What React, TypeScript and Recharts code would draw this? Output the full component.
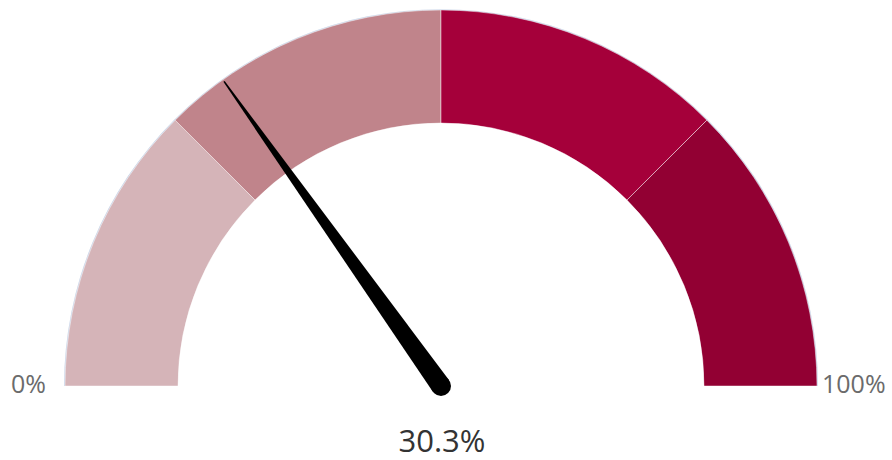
import { PieChart, Pie, Cell } from "recharts";

// gauge bands (percent of the dial each covers) and their colours
const bandSizes = [25, 25, 25, 25];
const bandColors = ["#d5b4b8", "#c0848b", "#a5003a", "#920033"];
const gaugeValue = 30.3;
const gaugeMin = 0;
const gaugeMax = 100;
const tickLabels = ["0%", "100%"];

const CX = 441;
const CY = 386;
const INNER = 263;
const OUTER = 376;

const bandData = bandSizes.map((v, i) => ({ name: `band${i}`, value: v }));
const rimData = [{ name: "rim", value: gaugeMax - gaugeMin }];

function Needle() {
  const t = (gaugeValue - gaugeMin) / (gaugeMax - gaugeMin);
  const ang = Math.PI * (1 - t);
  const ux = Math.cos(ang);
  const uy = -Math.sin(ang);
  const px = -uy;
  const py = ux;
  const len = OUTER - 2;
  const baseW = 10;
  const tipW = 0.8;
  const pts = [
    [CX + px * baseW, CY + py * baseW],
    [CX + ux * len + px * tipW, CY + uy * len + py * tipW],
    [CX + ux * len - px * tipW, CY + uy * len - py * tipW],
    [CX - px * baseW, CY - py * baseW],
  ]
    .map((p) => p.join(","))
    .join(" ");
  return (
    <svg width={892} height={460} style={{ position: "absolute", left: 0, top: 0, pointerEvents: "none" }}>
      <polygon points={pts} fill="#000" />
      <circle cx={CX} cy={CY} r={baseW} fill="#000" />
      <text x={46} y={393} textAnchor="end" fontSize={25} fill="#6b6b6b" fontFamily="'Open Sans', sans-serif">
        {tickLabels[0]}
      </text>
      <text x={822} y={393} textAnchor="start" fontSize={25} fill="#6b6b6b" fontFamily="'Open Sans', sans-serif">
        {tickLabels[1]}
      </text>
      <text x={442} y={452} textAnchor="middle" fontSize={31} fill="#333" fontFamily="'Open Sans', sans-serif">
        {`${gaugeValue}%`}
      </text>
    </svg>
  );
}

export default function App() {
  return (
    <div style={{ position: "absolute", left: 0, top: 0, width: 892, height: 460, background: "#fff" }}>
      <PieChart width={892} height={460} margin={{ top: 0, right: 0, bottom: 0, left: 0 }}>
        <Pie
          data={rimData}
          dataKey="value"
          cx={CX}
          cy={CY}
          startAngle={180}
          endAngle={0}
          innerRadius={OUTER - 1}
          outerRadius={OUTER + 1}
          fill="#c9d5e8"
          stroke="none"
          isAnimationActive={false}
        />
        <Pie
          data={bandData}
          dataKey="value"
          cx={CX}
          cy={CY}
          startAngle={180}
          endAngle={0}
          innerRadius={INNER}
          outerRadius={OUTER}
          stroke="#ffffff"
          strokeOpacity={0.45}
          strokeWidth={1}
          isAnimationActive={false}
        >
          {bandData.map((d, i) => (
            <Cell key={d.name} fill={bandColors[i]} />
          ))}
        </Pie>
      </PieChart>
      <Needle />
    </div>
  );
}
